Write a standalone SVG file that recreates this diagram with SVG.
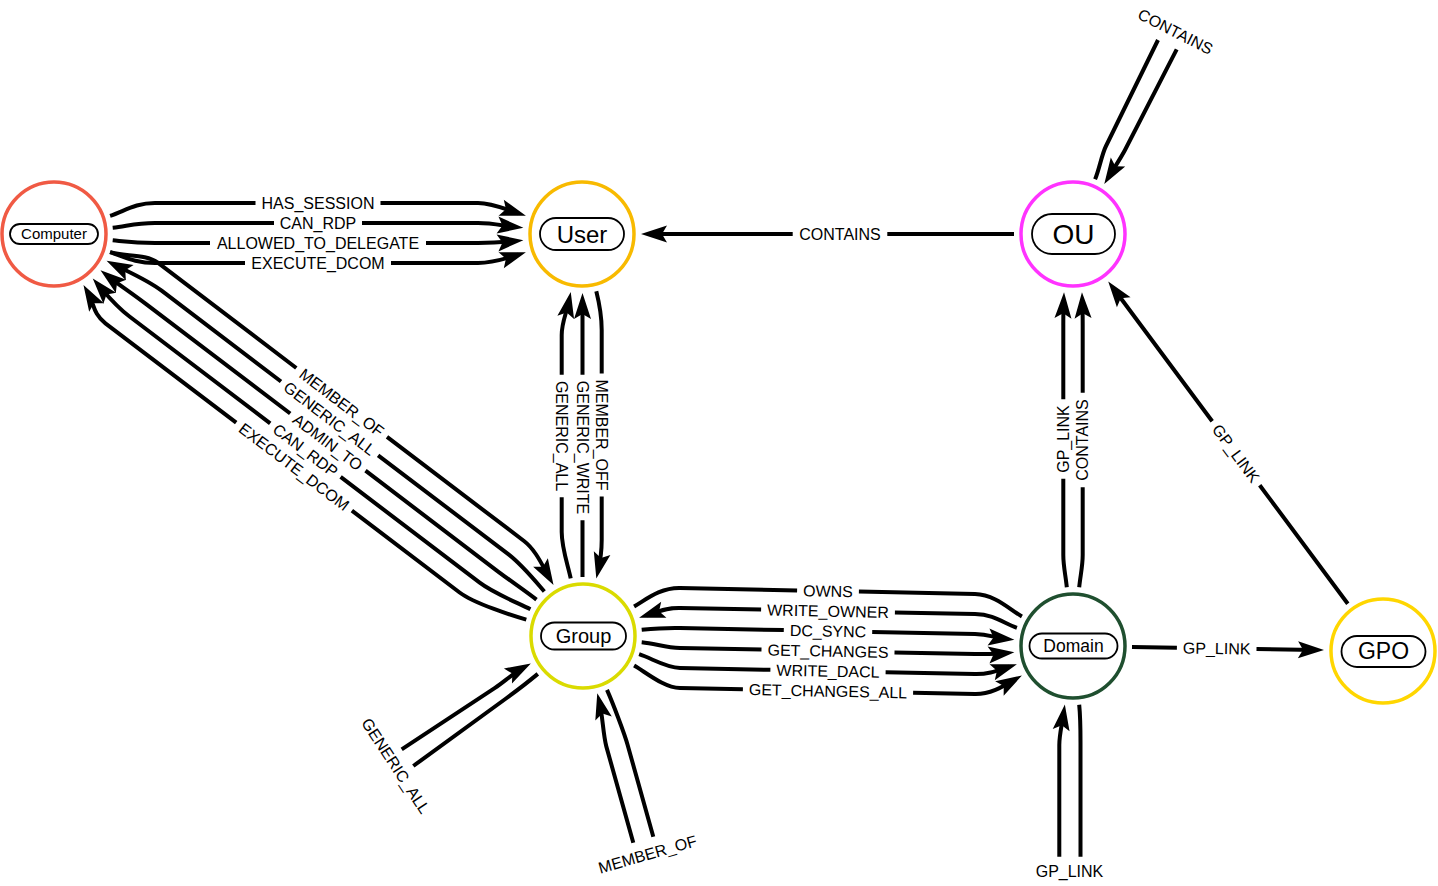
<svg xmlns="http://www.w3.org/2000/svg" width="1438" height="886" viewBox="0 0 1438 886">
<style>
.edge{fill:none;stroke:#000;stroke-width:4;stroke-linejoin:round}
.arrow{marker-end:url(#arr)}
.lbl{font-family:"Liberation Sans",Arial,sans-serif;font-size:16px;fill:#000;text-anchor:middle}
.ring{fill:#fff;stroke-width:3.5}
.pill{fill:#fff;stroke:#000;stroke-width:1.8}
.nlbl{font-family:"Liberation Sans",Arial,sans-serif;fill:#000;text-anchor:middle}
</style>
<defs>
<marker id="arr" markerUnits="userSpaceOnUse" markerWidth="28" markerHeight="18" refX="18" refY="8.5" orient="auto" overflow="visible">
<path d="M0,0 L26,8.5 L0,17 L5,8.5 Z" fill="#000"/>
</marker>
</defs>
<rect width="1438" height="886" fill="#fff"/>
<g id="connectors">
<!-- Computer -> User -->
<path class="edge arrow" d="M110.1,215.8 C124.4,211.2 135,203 155,203 L255.5,203 M380.5,203 L478,203 C492,203 506.9,209.6 518.3,213.3"/>
<text class="lbl" x="318" y="208.7">HAS_SESSION</text>
<path class="edge arrow" d="M112.7,227.8 C127,226.3 135,223 155,223 L274,223 M362,223 L478,223 C492,223 503.4,225.7 515.4,227.0"/>
<text class="lbl" x="318" y="228.7">CAN_RDP</text>
<path class="edge arrow" d="M112.7,240.2 C127,241.7 135,243 155,243 L210,243 M426,243 L478,243 C492,243 503.4,242.3 515.4,241.0"/>
<text class="lbl" x="318" y="248.7">ALLOWED_TO_DELEGATE</text>
<path class="edge arrow" d="M110.1,252.2 C124.4,256.8 135,263 155,263 L245,263 M391,263 L478,263 C492,263 506.9,258.4 518.3,254.7"/>
<text class="lbl" x="318" y="268.7">EXECUTE_DCOM</text>
<!-- Computer <-> Group -->
<path class="edge arrow" d="M110.1,252.2 C124.4,256.8 145.9,253.6 157.8,262.7 L296.3,368.0 M387.0,436.9 L524,541 C535.9,550.1 542.5,565.9 549.5,578.0"/>
<text class="lbl" transform="translate(341.7,402.5) rotate(37.2)" y="5.7">MEMBER_OF</text>
<path class="edge arrow" d="M544.3,591.5 C535.1,580.9 522.2,564.8 507.9,553.9 L378.1,455.3 M281.0,381.5 L161.6,290.7 C147.3,279.8 126.2,270.8 113.7,264.4"/>
<text class="lbl" transform="translate(329.6,418.4) rotate(37.2)" y="5.7">GENERIC_ALL</text>
<path class="edge arrow" d="M536.5,599.7 C525.5,591.1 510.1,580.7 495.8,569.8 L365.5,470.7 M290.2,413.5 L145.5,303.6 C131.2,292.7 117.8,283.9 106.8,275.3"/>
<text class="lbl" transform="translate(327.8,442.1) rotate(37.2)" y="5.7">ADMIN_TO</text>
<path class="edge arrow" d="M530.4,609.2 C517.9,602.8 494,593.6 479.7,582.7 L340.6,476.9 M270.2,423.4 L129.5,316.5 C115.2,305.6 107.1,295.1 98.0,284.6"/>
<text class="lbl" transform="translate(305.4,450.2) rotate(37.2)" y="5.7">CAN_RDP</text>
<path class="edge arrow" d="M526.3,619.7 C512.8,615.8 473.9,603.4 459.6,592.5 L351.9,510.6 M236.2,422.7 L105.4,323.3 C92.7,313.6 94.5,304.1 87.5,292.0"/>
<text class="lbl" transform="translate(294.1,466.7) rotate(37.2)" y="5.7">EXECUTE_DCOM</text>
<!-- User <-> Group -->
<path class="edge arrow" d="M570.7,578.3 C567.8,564.6 561.7,548 561.7,532 L561.7,497.2 M561.7,374.8 L561.7,335 C561.7,322 566.5,313.5 569.2,299.8"/>
<text class="lbl" transform="translate(561.7,436) rotate(90)" y="5.7">GENERIC_ALL</text>
<path class="edge arrow" d="M582.5,577 L582.5,520.2 M582.5,374.8 L582.5,301"/>
<text class="lbl" transform="translate(582.5,447.5) rotate(90)" y="5.7">GENERIC_WRITE</text>
<path class="edge arrow" d="M596.3,291.2 C599.7,304.8 601.7,316 601.7,330 L601.7,373.5 M601.7,496.5 L601.7,540 C601.7,548 601.2,557.1 598.1,570.7"/>
<text class="lbl" transform="translate(601.7,435) rotate(90)" y="5.7">MEMBER_OFF</text>
<!-- OU -> User -->
<path class="edge arrow" d="M1014,234 L887.3,234 M792.7,234 L649,234"/>
<text class="lbl" x="840" y="239.7">CONTAINS</text>
<!-- OU top stubs -->
<path class="edge" d="M1095.1,179.3 C1099.6,168.2 1101.6,155 1106,146 L1158,40"/>
<path class="edge arrow" d="M1176.7,49.3 L1125,150 C1121.3,157.1 1115.9,165.3 1108.5,177.2"/>
<text class="lbl" transform="translate(1175.5,31.5) rotate(27)" y="5.7">CONTAINS</text>
<!-- Domain -> OU -->
<path class="edge arrow" d="M1066.8,587.3 C1065.6,575.4 1063.3,566 1063.3,555 L1063.3,478.8 M1063.3,399.2 L1063.3,325 C1063.3,315 1063.3,310 1063.7,300.3"/>
<text class="lbl" transform="translate(1063.3,439) rotate(-90)" y="5.7">GP_LINK</text>
<path class="edge arrow" d="M1079.2,587.3 C1080.4,575.4 1082.7,566 1082.7,555 L1082.7,487.3 M1082.7,392.7 L1082.7,325 C1082.7,315 1082.7,310 1082.3,300.3"/>
<text class="lbl" transform="translate(1082.7,440) rotate(-90)" y="5.7">CONTAINS</text>
<!-- GPO -> OU -->
<path class="edge arrow" d="M1347.8,603.7 L1259.7,485.2 M1212.2,421.3 L1113.0,287.8"/>
<text class="lbl" transform="translate(1236,453.3) rotate(53.4)" y="5.7">GP_LINK</text>
<!-- Domain -> GPO -->
<path class="edge arrow" d="M1132,647 L1176.9,647.7 M1256.5,649 L1316,649.9"/>
<text class="lbl" transform="translate(1216.7,648.3) rotate(0.9)" y="5.7">GP_LINK</text>
<!-- Group <-> Domain -->
<path class="edge" d="M634.1,606.5 C646.2,599.5 660,587.6 680,588 L797.1,590.4 M858.9,591.6 L975,594 C995,594.4 1009.8,609.5 1021.9,616.5"/>
<text class="lbl" transform="translate(828,591) rotate(1.17)" y="5.7">OWNS</text>
<path class="edge arrow" d="M1016.9,627.8 C1003.6,623.4 995,614.4 975,614 L894.9,612.4 M761.1,609.6 L680,608 C666,607.7 658.1,611.6 646.7,615.3"/>
<text class="lbl" transform="translate(828,611) rotate(1.17)" y="5.7">WRITE_OWNER</text>
<path class="edge arrow" d="M641.7,629.8 C655.6,628.4 666,627.7 680,628 L783.8,630.1 M872.2,631.9 L975,634 C989,634.3 994.4,637.7 1006.4,639.0"/>
<text class="lbl" transform="translate(828,631) rotate(1.17)" y="5.7">DC_SYNC</text>
<path class="edge arrow" d="M641.7,642.2 C655.6,643.6 666,647.7 680,648 L761.5,649.6 M894.5,652.4 L975,654 C989,654.3 994.4,654.3 1006.4,653.0"/>
<text class="lbl" transform="translate(828,651) rotate(1.17)" y="5.7">GET_CHANGES</text>
<path class="edge arrow" d="M639.1,654.2 C652.4,658.6 666,667.7 680,668 L770.4,669.8 M885.6,672.2 L975,674 C989,674.3 997.9,670.4 1009.3,666.7"/>
<text class="lbl" transform="translate(828,671) rotate(1.17)" y="5.7">WRITE_DACL</text>
<path class="edge arrow" d="M634.1,665.5 C646.2,672.5 664,687.7 680,688 L742.9,689.3 M913.1,692.7 L975,694 C991,694.3 1004.6,685.5 1015,679.5"/>
<text class="lbl" transform="translate(828,691) rotate(1.17)" y="5.7">GET_CHANGES_ALL</text>
<!-- Group bottom-left stubs -->
<path class="edge arrow" d="M401.7,749.3 L495,687.8 C504,681.9 513.2,673.1 523.8,667.4"/>
<path class="edge" d="M537.8,673.9 C527.1,682.9 516,691.2 506,698.5 L413.3,766"/>
<text class="lbl" transform="translate(395.8,765.8) rotate(56.7)" y="5.7">GENERIC_ALL</text>
<!-- Group bottom stubs -->
<path class="edge arrow" d="M633.3,842.7 L606.3,746.4 C603.1,734.8 602.6,714.6 599.2,701.0"/>
<path class="edge" d="M607,689.9 C612.7,702.7 624.5,733.6 627.7,745.2 L653.3,836.7"/>
<text class="lbl" transform="translate(647.5,854.2) rotate(-16)" y="5.7">MEMBER_OF</text>
<!-- Domain bottom stubs -->
<path class="edge arrow" d="M1059.3,856.7 L1059.3,745 C1059.3,735 1061.7,726.2 1063.7,712.3"/>
<path class="edge" d="M1079.2,704.7 C1080.6,718.6 1080.5,735 1080.5,745 L1080.5,856.7"/>
<text class="lbl" x="1069.5" y="877.4">GP_LINK</text>
</g>
<g id="node-computer">
<circle class="ring" cx="54" cy="234" r="52" stroke="#F05A44"/>
<rect class="pill" x="10" y="224" width="88" height="20" rx="10"/>
<text class="nlbl" x="54" y="239.3" font-size="15">Computer</text>
</g>
<g id="node-user">
<circle class="ring" cx="582" cy="234" r="52" stroke="#F8BA00"/>
<rect class="pill" x="540" y="218" width="84" height="32" rx="16"/>
<text class="nlbl" x="582" y="242.6" font-size="24">User</text>
</g>
<g id="node-ou">
<circle class="ring" cx="1073" cy="234" r="52" stroke="#FF33FF"/>
<rect class="pill" x="1032" y="214" width="83" height="40" rx="20"/>
<text class="nlbl" x="1073.5" y="244" font-size="28">OU</text>
</g>
<g id="node-group">
<circle class="ring" cx="583" cy="636" r="52" stroke="#DADB00"/>
<rect class="pill" x="541" y="622.5" width="85" height="27" rx="13.5"/>
<text class="nlbl" x="583.5" y="643.2" font-size="20">Group</text>
</g>
<g id="node-domain">
<circle class="ring" cx="1073" cy="646" r="52" stroke="#1F4F2F"/>
<rect class="pill" x="1029.5" y="633.5" width="88" height="25" rx="12.5"/>
<text class="nlbl" x="1073.5" y="652.3" font-size="17.5">Domain</text>
</g>
<g id="node-gpo">
<circle class="ring" cx="1383" cy="651" r="52" stroke="#FFD600"/>
<rect class="pill" x="1341.5" y="636" width="84" height="31" rx="15.5"/>
<text class="nlbl" x="1383.5" y="659.2" font-size="23">GPO</text>
</g>
</svg>
